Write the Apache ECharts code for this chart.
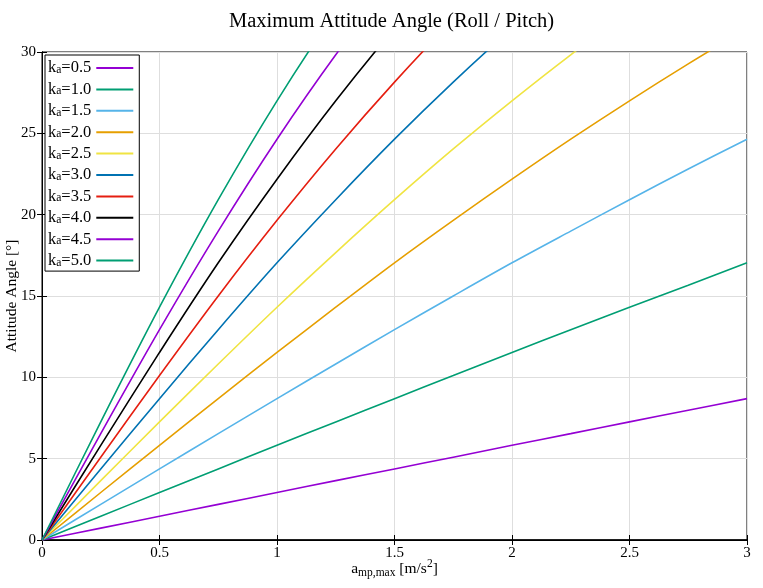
<!DOCTYPE html>
<html>
<head>
<meta charset="utf-8">
<script src="https://cdn.jsdelivr.net/npm/echarts@6/dist/echarts.min.js"></script>
<style>
html,body{margin:0;padding:0;background:#fff;}
#chart1{width:763px;height:588px;}
</style>
</head>
<body>
<div id="chart1"></div>
<script>
// x 轴取样点
var accel = [0, 0.25, 0.5, 0.75, 1, 1.25, 1.5, 1.75, 2, 2.25, 2.5, 2.75, 3];
// 各 ka 对应的角度 (度), 超出 30 的部分被网格裁掉
var ka05 = [0, 0.73, 1.46, 2.19, 2.92, 3.65, 4.37, 5.09, 5.82, 6.54, 7.26, 7.98, 8.69];
var ka10 = [0, 1.46, 2.92, 4.37, 5.82, 7.26, 8.69, 10.11, 11.53, 12.92, 14.31, 15.66, 17.04];
var ka15 = [0, 2.19, 4.37, 6.54, 8.69, 10.82, 12.93, 15.00, 17.04, 18.99, 20.92, 22.81, 24.64];
var ka20 = [0, 2.92, 5.82, 8.69, 11.53, 14.31, 17.04, 19.65, 22.18, 24.64, 27.00, 29.27, 31.45];
var ka25 = [0, 3.65, 7.26, 10.82, 14.31, 17.67, 20.92, 24.04, 27.00, 29.83, 32.50, 35.03, 37.40];
var ka30 = [0, 4.37, 8.69, 12.93, 17.04, 20.92, 24.64, 28.15, 31.45, 34.55, 37.40, 40.07, 42.53];
var ka35 = [0, 5.09, 10.11, 15.00, 19.65, 24.04, 28.15, 31.98, 35.53, 38.74, 41.72, 44.43, 46.90];
var ka40 = [0, 5.82, 11.53, 17.04, 22.18, 27.00, 31.45, 35.53, 39.20, 42.53, 45.56, 48.24, 50.71];
var ka45 = [0, 6.54, 12.93, 18.99, 24.64, 29.83, 34.55, 38.74, 42.53, 45.92, 48.90, 51.55, 53.91];
var ka50 = [0, 7.26, 14.31, 20.92, 27.00, 32.50, 37.40, 41.72, 45.56, 48.90, 51.86, 54.47, 56.78];

var kaNames = ['0.5','1.0','1.5','2.0','2.5','3.0','3.5','4.0','4.5','5.0'];
var kaValues = [ka05, ka10, ka15, ka20, ka25, ka30, ka35, ka40, ka45, ka50];
var lineColors = ['#9400d3','#009e73','#56b4e9','#e69f00','#f0e442','#0072b2','#e51e10','#000000','#9400d3','#009e73'];

var xTicks = ['0','0.5','1','1.5','2','2.5','3'];
var yTicks = ['0','5','10','15','20','25','30'];

var serif = 'Liberation Serif';

var myChart = {
	buildSeries:function(){
		var list = [];
		for (var i = 0; i < kaNames.length; i++) {
			var pts = [];
			for (var j = 0; j < accel.length; j++) {
				pts.push([accel[j], kaValues[i][j]]);
			}
			list.push({
				name:'ka=' + kaNames[i],
				type:'line',
				data:pts,
				symbol:'none',
				smooth:0.3,
				clip:true,
				silent:true,
				lineStyle:{color:lineColors[i], width:1.6},
				itemStyle:{color:lineColors[i]}
			});
		}
		return list;
	},
	init:function(){
		var tickStyle = {show:true, inside:true, length:5, lineStyle:{color:'#000'}};
		var option = {
			animation:false,
			backgroundColor:'#fff',
			title:{
				text:'Maximum Attitude Angle (Roll / Pitch)',
				left:224,
				top:6,
				textStyle:{fontFamily:serif, fontSize:20.5, fontWeight:'normal', color:'#000'}
			},
			legend:{
				orient:'vertical',
				left:45,
				top:55,
				align:'right',
				itemWidth:37,
				itemHeight:10,
				itemGap:1.9,
				padding:[2,5,2,3],
				borderColor:'#000',
				borderWidth:1,
				backgroundColor:'#fff',
				itemStyle:{opacity:0},
				lineStyle:{width:2},
				data:kaNames.map(function(n){ return 'ka=' + n; }),
				formatter:function(name){
					return '{k|k}{s|a}{k|=' + name.substring(3) + '}';
				},
				textStyle:{
					fontFamily:serif, fontSize:16, color:'#000',
					rich:{
						k:{fontFamily:serif, fontSize:16.5, color:'#000', lineHeight:16},
						s:{fontFamily:serif, fontSize:11.5, color:'#000', verticalAlign:'bottom', padding:[7,0,0,0], lineHeight:16}
					}
				}
			},
			grid:{
				left:42, right:16, top:52, bottom:48,
				outerBoundsMode:'none',
				containLabel:false,
				show:true, borderColor:'#000', borderWidth:1
			},
			xAxis:[{
				type:'value', min:0, max:3, interval:0.5,
				name:'{t|a}{s|mp,max}{t| [m/s}{p|2}{t|]}',
				nameLocation:'middle', nameGap:18,
				nameMoveOverlap:false,
				nameTextStyle:{
					rich:{
						t:{fontFamily:serif, fontSize:15.5, color:'#000'},
						s:{fontFamily:serif, fontSize:11.5, color:'#000', verticalAlign:'bottom', padding:[9,0,0,0]},
						p:{fontFamily:serif, fontSize:11.5, color:'#000', verticalAlign:'top', padding:[0,0,9,0]}
					}
				},
				axisLine:{show:true, lineStyle:{color:'#000', width:1.5}},
				axisTick:tickStyle,
				axisLabel:{fontFamily:serif, fontSize:15, color:'#000', margin:6,
					formatter:function(v){ return xTicks[Math.round(v * 2)]; }},
				splitLine:{show:true, lineStyle:{color:'#dedede', width:1}}
			},{
				type:'value', position:'top', min:0, max:3, interval:0.5,
				axisLine:{show:true, lineStyle:{color:'#000'}},
				axisTick:tickStyle, axisLabel:{show:false}, splitLine:{show:false}
			}],
			yAxis:[{
				type:'value', min:0, max:30, interval:5,
				name:'Attitude Angle [°]',
				nameLocation:'middle', nameGap:22,
				nameMoveOverlap:false,
				nameTextStyle:{fontFamily:serif, fontSize:15.5, color:'#000'},
				axisLine:{show:true, lineStyle:{color:'#000'}},
				axisTick:tickStyle,
				axisLabel:{fontFamily:serif, fontSize:15, color:'#000', margin:6,
					formatter:function(v){ return yTicks[Math.round(v / 5)]; }},
				splitLine:{show:true, lineStyle:{color:'#dedede', width:1}}
			},{
				type:'value', position:'right', min:0, max:30, interval:5,
				axisLine:{show:true, lineStyle:{color:'#000'}},
				axisTick:tickStyle, axisLabel:{show:false}, splitLine:{show:false}
			}],
			series:myChart.buildSeries()
		};
		var chart = echarts.init(document.getElementById('chart1'));
		chart.setOption(option);
		return chart;
	}
};

var chartObj = myChart.init();
</script>
</body>
</html>
